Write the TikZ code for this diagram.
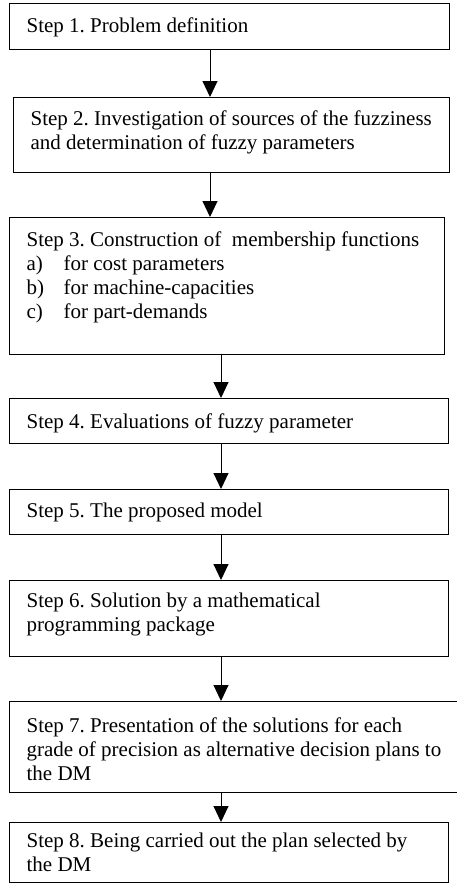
\documentclass[tikz,border=0pt]{standalone}
\usepackage{fontspec}
\setmainfont{Liberation Serif}
\usetikzlibrary{arrows.meta}
\frenchspacing
\newcommand{\boxtext}[4]{\parbox[t][#1pt][t]{#2pt}{\fontsize{21}{24}\selectfont\frenchspacing\rule{0pt}{#3pt}#4}}
\newcommand{\itemlbl}[1]{\makebox[37pt][l]{#1}}
\begin{document}
\begin{tikzpicture}[x=1pt,y=-1pt,
  stepbox/.style={draw=black, line width=1.2pt, anchor=north west, inner xsep=17pt, inner ysep=0pt, align=left},
  arr/.style={line width=1pt, -{Triangle[length=16pt,width=15pt]}}]
\useasboundingbox (0,0) rectangle (456,884);
\node[stepbox] (s1) at (9,3) {\boxtext{46}{406}{29}{\mbox{Step 1. Problem definition}}};
\node[stepbox] (s2) at (13,97) {\boxtext{75}{402}{28}{\mbox{Step 2. Investigation of sources of the fuzziness}\\ \mbox{and determination of fuzzy parameters}}};
\node[stepbox] (s3) at (9,217) {\boxtext{137}{401}{29}{\mbox{Step 3. Construction of \ membership functions}\\ \mbox{\itemlbl{a)}for cost parameters}\\ \mbox{\itemlbl{b)}for machine-capacities}\\ \mbox{\itemlbl{c)}for part-demands}}};
\node[stepbox] (s4) at (9,398) {\boxtext{45}{405}{30}{\mbox{Step 4. Evaluations of fuzzy parameter}}};
\node[stepbox] (s5) at (9,489) {\boxtext{45}{405}{28}{\mbox{Step 5. The proposed model}}};
\node[stepbox] (s6) at (9,580) {\boxtext{76}{405}{27}{\mbox{Step 6. Solution by a mathematical}\\ \mbox{programming package}}};
\node[stepbox] (s7) at (9,701) {\boxtext{91}{415}{31}{\mbox{Step 7. Presentation of the solutions for each}\\ \mbox{grade of precision as alternative decision plans to}\\ \mbox{the DM}}};
\node[stepbox] (s8) at (9,822) {\boxtext{60}{405}{25}{\mbox{Step 8. Being carried out the plan selected by}\\ \mbox{the DM}}};
\coordinate (xa) at (210,0);
\coordinate (xb) at (221,0);
\draw[arr] (s1.south -| xa) -- (s2.north -| xa);
\draw[arr] (s2.south -| xa) -- (s3.north -| xa);
\draw[arr] (s3.south -| xb) -- (s4.north -| xb);
\draw[arr] (s4.south -| xb) -- (s5.north -| xb);
\draw[arr] (s5.south -| xb) -- (s6.north -| xb);
\draw[arr] (s6.south -| xb) -- (s7.north -| xb);
\draw[arr] (s7.south -| xb) -- (s8.north -| xb);
\end{tikzpicture}
\end{document}
